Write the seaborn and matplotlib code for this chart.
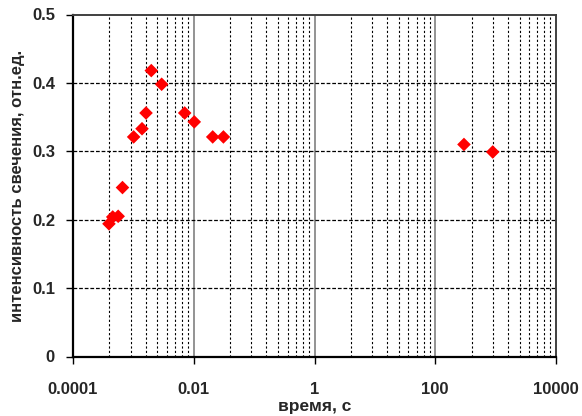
import matplotlib
matplotlib.use("Agg")
import matplotlib.pyplot as plt
import seaborn as sns
import numpy as np
import pandas as pd
from matplotlib.ticker import FixedLocator, FixedFormatter, NullFormatter

time_s = [3.94e-4, 4.55e-4, 5.6e-4, 6.6e-4, 1.01e-3, 1.39e-3, 1.62e-3,
          1.98e-3, 2.94e-3, 7.08e-3, 0.0102, 0.0206, 0.031, 299.0, 895.0]
intensity = [0.194, 0.204, 0.205, 0.247, 0.321, 0.333, 0.356,
             0.418, 0.398, 0.356, 0.343, 0.321, 0.321, 0.310, 0.299]

x_ticks = [1e-4, 1e-2, 1, 100, 1e4]
x_tick_labels = ["0.0001", "0.01", "1", "100", "10000"]
y_ticks = [0, 0.1, 0.2, 0.3, 0.4, 0.5]
y_tick_labels = ["0", "0.1", "0.2", "0.3", "0.4", "0.5"]

df = pd.DataFrame({"t": time_s, "I": intensity})

sns.set_theme(style="white")
plt.rcParams['font.family'] = ['Liberation Sans', 'DejaVu Sans']

fig = plt.figure(figsize=(5.82, 4.16), dpi=100)
ax = fig.add_axes([73/582, 1-356.5/416, (556-73)/582, (356.5-14.5)/416])

ax.set_xscale("log")
ax.set_xlim(1e-4, 1e4)
ax.set_ylim(0, 0.5)

# minor grid lines (Excel base-100 style: major * k^2)
minor = []
for m in [1e-4, 1e-2, 1, 100]:
    for k in range(2, 10):
        minor.append(m * k * k)
for v in minor:
    ax.axvline(v, color="black", linestyle=(0, (2, 2)), linewidth=0.8, zorder=1)
for v in x_ticks[1:-1]:
    ax.axvline(v, color="#808080", linestyle="-", linewidth=1.2, zorder=1)
for v in y_ticks[1:-1]:
    ax.axhline(v, color="black", linestyle=(0, (3, 1.5)), linewidth=0.9, zorder=1)

sns.scatterplot(data=df, x="t", y="I", ax=ax, marker="D", s=48,
                color="#ff0000", edgecolor="none", linewidth=0, zorder=3)

ax.xaxis.set_major_locator(FixedLocator(x_ticks))
ax.xaxis.set_major_formatter(FixedFormatter(x_tick_labels))
ax.xaxis.set_minor_locator(FixedLocator([]))
ax.xaxis.set_minor_formatter(NullFormatter())
ax.yaxis.set_major_locator(FixedLocator(y_ticks))
ax.yaxis.set_major_formatter(FixedFormatter(y_tick_labels))

ax.tick_params(axis="both", which="major", direction="out", length=5, width=1,
               color="black", labelsize=12, bottom=True, left=True)
ax.tick_params(axis="x", pad=13.5)
ax.tick_params(axis="y", pad=8)
for lab in ax.get_xticklabels() + ax.get_yticklabels():
    lab.set_fontweight("bold")

ax.set_xlabel("время, с", fontsize=12.5, fontweight="bold", labelpad=1)
ax.set_ylabel("интенсивность свечения, отн.ед.", fontsize=12, fontweight="bold", labelpad=5)

for side in ["left", "bottom"]:
    ax.spines[side].set_color("black")
    ax.spines[side].set_linewidth(1.6)
for side in ["top", "right"]:
    ax.spines[side].set_color("#404040")
    ax.spines[side].set_linewidth(1.4)

fig.savefig("out.png", dpi=100)
